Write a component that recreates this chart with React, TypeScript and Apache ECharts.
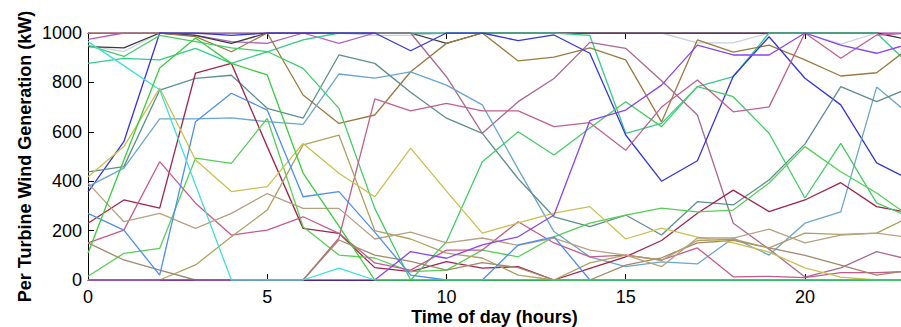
import React, { useEffect, useRef } from "react";
import * as echarts from "echarts";

const hours = [0, 1, 2, 3, 4, 5, 6, 7, 8, 9, 10, 11, 12, 13, 14, 15, 16, 17, 18, 19, 20, 21, 22, 23];

const lightGray = [950, 925, 1000, 1000, 1000, 1000, 1000, 1000, 990, 990, 1000, 1000, 1000, 1000, 1000, 1000, 1000, 960, 960, 1000, 1000, 955, 1000, 1000];
const orchid = [974, 1000, 1000, 990, 965, 958, 1000, 958, 1000, 1000, 1000, 1000, 1000, 1000, 1000, 1000, 1000, 1000, 1000, 1000, 1000, 1000, 1000, 1000];
const darkGray = [945, 940, 1000, 990, 958, 1000, 1000, 1000, 1000, 1000, 958, 1000, 1000, 1000, 1000, 1000, 1000, 1000, 1000, 1000, 1000, 1000, 1000, 970];
const tealGreen = [877, 897, 891, 938, 877, 924, 972, 1000, 1000, 1000, 1000, 1000, 1000, 1000, 990, 594, 634, 783, 823, 1000, 1000, 1000, 1000, 860];
const brownA = [1000, 1000, 1000, 985, 924, 1000, 749, 634, 668, 843, 958, 1000, 887, 902, 940, 891, 640, 972, 923, 951, 891, 826, 839, 950];
const pinkC = [1000, 1000, 1000, 1000, 1000, 1000, 1000, 1000, 1000, 1000, 823, 594, 722, 816, 962, 938, 807, 668, 230, 125, 12, 49, 115, 80];
const darkBlue = [356, 560, 1000, 1000, 990, 1000, 1000, 1000, 1000, 928, 1000, 1000, 969, 992, 918, 587, 400, 483, 825, 985, 817, 709, 474, 400];
const steelBlue = [378, 453, 652, 652, 656, 641, 630, 834, 817, 843, 789, 709, 449, 196, 94, 54, 73, 65, 170, 101, 230, 276, 781, 660];
const slateGray = [438, 459, 769, 816, 829, 695, 655, 911, 877, 760, 655, 594, 410, 256, 216, 263, 182, 317, 304, 405, 550, 783, 722, 783];
const maroon = [230, 324, 291, 838, 877, 540, 209, 189, 50, 34, 74, 48, 54, 0, 47, 94, 160, 270, 364, 277, 324, 394, 297, 270];
const greenC = [950, 905, 990, 965, 940, 925, 857, 695, 290, 0, 155, 479, 600, 506, 615, 722, 621, 783, 742, 594, 332, 553, 312, 250];
const greenA = [15, 108, 128, 493, 472, 654, 216, 101, 89, 34, 40, 121, 94, 175, 230, 263, 291, 276, 283, 393, 540, 438, 352, 250];
const pinkA = [150, 202, 479, 311, 182, 202, 256, 189, 69, 40, 121, 121, 236, 150, 94, 101, 81, 130, 13, 15, 10, 30, 30, 35];
const pinkB = [0, 0, 0, 0, 0, 0, 0, 170, 733, 685, 715, 685, 685, 621, 637, 525, 700, 810, 681, 701, 1000, 898, 992, 1000];
const khaki = [150, 81, 40, 0, 0, 0, 0, 162, 101, 75, 40, 70, 50, 0, 0, 60, 90, 150, 160, 130, 100, 60, 20, 40];
const olive = [0, 0, 0, 61, 175, 283, 547, 587, 200, 166, 109, 89, 20, 0, 69, 101, 80, 160, 165, 130, 190, 185, 190, 260];
const yellow = [418, 540, 777, 486, 358, 378, 553, 432, 337, 534, 360, 190, 231, 271, 297, 166, 210, 174, 150, 113, 49, 12, 0, 0];
const tan = [392, 236, 270, 209, 270, 350, 290, 290, 166, 194, 150, 170, 140, 170, 121, 101, 54, 170, 170, 206, 150, 182, 190, 170];
const cornflower = [270, 202, 20, 641, 756, 688, 337, 358, 194, 20, 0, 0, 142, 175, 0, 0, 0, 0, 0, 0, 0, 0, 0, 0];
const violet = [0, 0, 0, 0, 0, 0, 0, 0, 0, 115, 88, 142, 175, 263, 645, 688, 789, 951, 911, 911, 1000, 951, 918, 960];
const cyan = [965, 868, 770, 385, 0, 0, 0, 48, 0, 0, 0, 0, 0, 0, 0, 0, 0, 0, 0, 0, 0, 0, 0, 0];
const greenB = [108, 486, 858, 980, 877, 830, 433, 218, 0, 0, 0, 0, 0, 0, 0, 0, 0, 0, 0, 0, 0, 0, 0, 0];

const seriesList = [
  { name: "T1", values: lightGray, color: "#c8d0dc" },
  { name: "T2", values: orchid, color: "#b060c0" },
  { name: "T3", values: darkGray, color: "#3a3a3a" },
  { name: "T4", values: tealGreen, color: "#33cc88" },
  { name: "T5", values: brownA, color: "#9a7a40" },
  { name: "T6", values: pinkC, color: "#a86a90" },
  { name: "T7", values: darkBlue, color: "#3535d8" },
  { name: "T8", values: steelBlue, color: "#6aa6cc" },
  { name: "T9", values: slateGray, color: "#5e8f8c" },
  { name: "T10", values: maroon, color: "#a0244a" },
  { name: "T11", values: greenC, color: "#44cc66" },
  { name: "T12", values: greenA, color: "#55d055" },
  { name: "T13", values: pinkA, color: "#c85a8a" },
  { name: "T14", values: pinkB, color: "#c0608e" },
  { name: "T15", values: khaki, color: "#a08868" },
  { name: "T16", values: olive, color: "#b0a060" },
  { name: "T17", values: yellow, color: "#c8c050" },
  { name: "T18", values: tan, color: "#b8a080" },
  { name: "T19", values: cornflower, color: "#4d8ef0" },
  { name: "T20", values: violet, color: "#8844ee" },
  { name: "T21", values: cyan, color: "#40e0d8" },
  { name: "T22", values: greenB, color: "#3ccc3c" },
];

const FONT = "Liberation Sans, Arial, Helvetica, sans-serif";

export default function App() {
  const ref = useRef<HTMLDivElement>(null);
  useEffect(() => {
    if (!ref.current) return;
    const chart = echarts.init(ref.current, null, { renderer: "svg" });
    const axisLine = { show: true, onZero: false, lineStyle: { color: "#000", width: 1 } };
    const axisTick = { show: true, inside: true, length: 6, lineStyle: { color: "#000", width: 1 } };
    chart.setOption({
      animation: false,
      backgroundColor: "#fff",
      grid: { left: 88, top: 33, right: 0, bottom: 47, containLabel: false, outerBoundsMode: "none" },
      xAxis: [
        {
          type: "value",
          position: "bottom",
          min: 0,
          max: 22.68,
          interval: 5,
          name: "Time of day (hours)",
          nameLocation: "middle",
          nameGap: 28,
          nameMoveOverlap: false,
          nameTextStyle: { fontFamily: FONT, fontWeight: "bold", fontSize: 18, lineHeight: 18, color: "#000" },
          axisLine,
          axisTick,
          axisLabel: {
            margin: 9,
            fontFamily: FONT,
            fontSize: 18,
            lineHeight: 16,
            color: "#000",
            showMaxLabel: false,
            formatter: (v: number) => (Math.abs(v % 5) < 1e-6 ? String(v) : ""),
          },
          splitLine: { show: false },
        },
        {
          type: "value",
          position: "top",
          min: 0,
          max: 22.68,
          interval: 5,
          axisLine,
          axisTick,
          axisLabel: { show: false },
          splitLine: { show: false },
        },
      ],
      yAxis: {
        type: "value",
        min: 0,
        max: 1000,
        interval: 200,
        name: "Per Turbine Wind Generation (kW)",
        nameLocation: "middle",
        nameGap: 54,
        nameMoveOverlap: false,
        nameTextStyle: { fontFamily: FONT, fontWeight: "bold", fontSize: 18, color: "#000" },
        axisLine,
        axisTick,
        axisLabel: {
          margin: 6,
          fontFamily: FONT,
          fontSize: 18,
          color: "#000",
          formatter: (v: number) => String(v),
        },
        splitLine: { show: false },
      },
      series: seriesList.map((s) => ({
        type: "line",
        name: s.name,
        xAxisIndex: 0,
        data: hours.map((h, i) => [h, s.values[i]]),
        symbol: "none",
        silent: true,
        clip: true,
        lineStyle: { width: 1.3, color: s.color },
        itemStyle: { color: s.color },
      })),
    });
    return () => chart.dispose();
  }, []);
  return (
    <div
      ref={ref}
      style={{ position: "absolute", left: 0, top: 0, width: 901, height: 327, background: "#fff" }}
    />
  );
}
